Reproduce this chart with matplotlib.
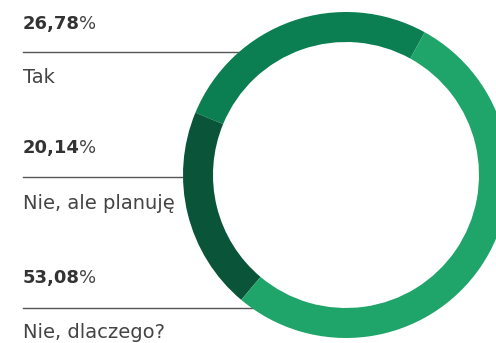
import matplotlib
matplotlib.use("Agg")
import matplotlib.pyplot as plt

labels = ["Tak", "Nie, ale planuję", "Nie, dlaczego?"]
shares = [26.78, 20.14, 53.08]
colors = ["#0b7f52", "#0a5539", "#1fa46a"]

W, H = 496, 343
plt.rcParams["font.family"] = ["DejaVu Sans"]

fig = plt.figure(figsize=(W / 100, H / 100), dpi=100)
ax = fig.add_axes([0, 0, 1, 1])

# donut, partly running off the right edge
cx, cy, r = 346, H - 175, 163
ax.pie(shares, colors=colors, startangle=61.1, counterclock=True,
       center=(cx, cy), radius=r,
       wedgeprops=dict(width=30, edgecolor="none", linewidth=0, zorder=3))

# text rows: value on top, rule, label below
value_y = [29, 153, 283]
rule_y = [52, 177, 308]
rule_end = [280, 205, 300]
label_y = [83, 209, 338]

for lab, val, vy, ry, rx, ly in zip(labels, shares, value_y, rule_y, rule_end, label_y):
    num = ax.text(23, H - vy, f"{val:.2f}".replace(".", ","), fontsize=13,
                  fontweight="bold", color="#333333", va="baseline", ha="left")
    ax.annotate("%", xy=(1, H - vy), xycoords=(num, "data"), xytext=(-0.5, 0),
                textcoords="offset points", fontsize=13, color="#444444",
                va="baseline", ha="left")
    ax.plot([23, rx], [H - ry, H - ry], color="#555555", lw=1, zorder=1)
    ax.text(23, H - ly, lab, fontsize=14, color="#444444", va="baseline", ha="left")

ax.set_xlim(0, W)
ax.set_ylim(0, H)
ax.set_aspect("auto")
ax.axis("off")

fig.savefig("out.png", dpi=100)
